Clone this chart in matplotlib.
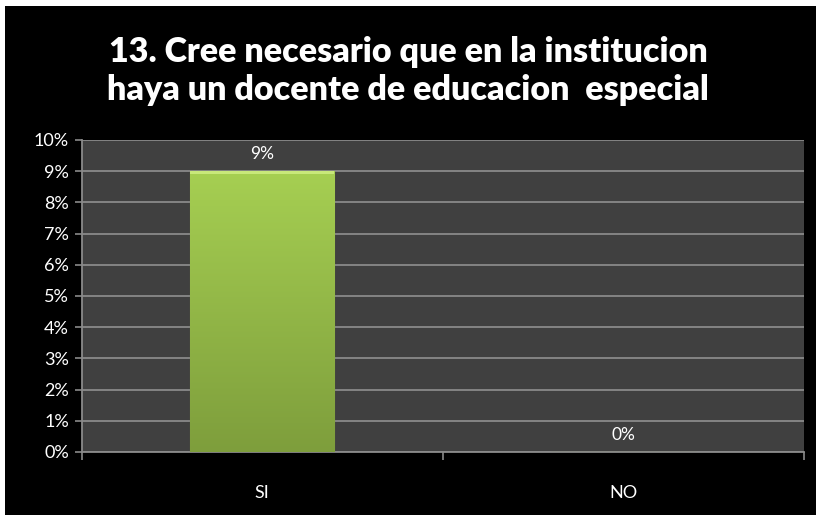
import matplotlib
matplotlib.use("Agg")
import matplotlib.pyplot as plt
from matplotlib.patches import Rectangle
from matplotlib.colors import LinearSegmentedColormap
import numpy as np

# data
categories = ["SI", "NO"]
values = [9, 0]
yticks = list(range(0, 11))
title = "13. Cree necesario que en la institucion\nhaya un docente de educacion  especial"

fig = plt.figure(figsize=(8.16, 5.15), dpi=100, facecolor="white")
# black panel with a thin white margin top/left
fig.patches.append(Rectangle((5 / 816, 0), 811 / 816, 509 / 515, transform=fig.transFigure,
                             facecolor="black", edgecolor="none", zorder=-10))

ax = fig.add_axes([81.6 / 816, 1 - 452 / 515, (804 - 81.6) / 816, (452 - 140) / 515])
ax.set_facecolor("#404040")

x = np.arange(len(categories))
bars = ax.bar(x, values, width=0.4, color="#98c14a", edgecolor="#7a9a3a", linewidth=0.8, zorder=3)

# vertical gradient inside each bar
cmap = LinearSegmentedColormap.from_list("g", ["#7e9e3c", "#a6cf52"])
grad = np.linspace(0, 1, 256).reshape(-1, 1)
for b in bars:
    if b.get_height() <= 0:
        continue
    im = ax.imshow(grad, cmap=cmap, origin="lower", aspect="auto", zorder=3.5,
                   extent=[b.get_x(), b.get_x() + b.get_width(), 0, b.get_height()])
    im.set_clip_path(b)
    # light highlight strip at top
    ax.add_patch(Rectangle((b.get_x(), b.get_height() - 0.08), b.get_width(), 0.08,
                           facecolor="#c8e87a", edgecolor="none", zorder=3.6))

for xi, v in zip(x, values):
    ax.text(xi, v + 0.3, f"{v}%", ha="center", va="bottom", color="white", fontsize=12.5,
            family="Lato", zorder=5)

ax.set_xlim(-0.5, 1.5)
ax.set_ylim(0, 10)
ax.set_yticks(yticks)
ax.set_yticklabels([f"{t}%" for t in yticks])
ax.set_xticks(x)
ax.set_xticklabels(categories)
ax.set_xticks([-0.5, 0.5, 1.5], minor=True)
ax.tick_params(axis="x", which="major", length=0, pad=24)
ax.tick_params(axis="x", which="minor", length=6, color="#8a8a8a", width=1.2)
ax.tick_params(axis="y", length=5, color="#8a8a8a", width=1.2, pad=4)
for lbl in ax.get_xticklabels() + ax.get_yticklabels():
    lbl.set_color("white")
    lbl.set_fontsize(13)
    lbl.set_family("Lato")

ax.grid(axis="y", color="#8a8a8a", linewidth=1.3, zorder=1)
ax.set_axisbelow(True)
for side in ["top", "right"]:
    ax.spines[side].set_visible(False)
for side in ["left", "bottom"]:
    ax.spines[side].set_color("#8a8a8a")
    ax.spines[side].set_linewidth(1.3)

fig.text(0.5, 1 - 71 / 515, title, ha="center", va="center", color="white",
         fontsize=24.5, fontweight="heavy", family="Lato", linespacing=1.22)

fig.savefig("out.png", dpi=100, facecolor=fig.get_facecolor())
